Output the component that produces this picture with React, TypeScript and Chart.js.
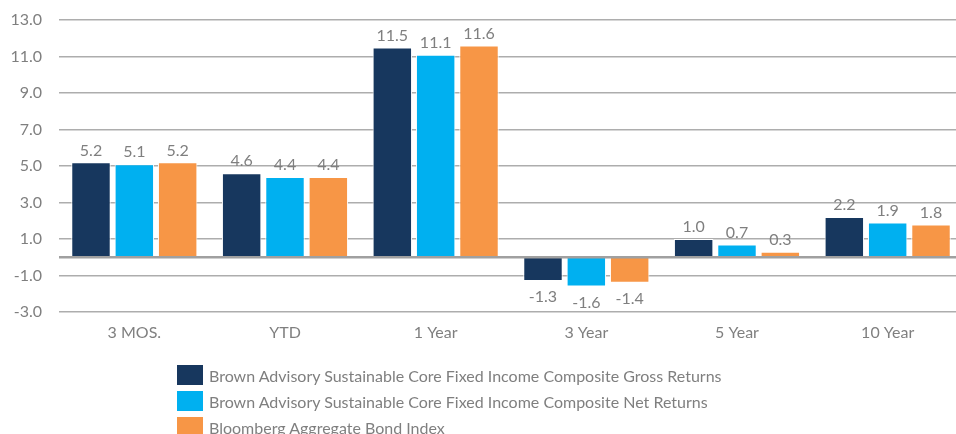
import React, { useEffect, useRef } from "react";
import { Chart, registerables } from "chart.js";

Chart.register(...registerables);

const categories = ["3 MOS.", "YTD", "1 Year", "3 Year", "5 Year", "10 Year"];
const grossReturns = [5.2, 4.6, 11.5, -1.3, 1.0, 2.2];
const netReturns = [5.1, 4.4, 11.1, -1.6, 0.7, 1.9];
const benchmarkReturns = [5.2, 4.4, 11.6, -1.4, 0.3, 1.8];
const seriesNames = [
  "Brown Advisory Sustainable Core Fixed Income Composite Gross Returns",
  "Brown Advisory Sustainable Core Fixed Income Composite Net Returns",
  "Bloomberg Aggregate Bond Index",
];
const seriesColors = ["#17375E", "#00B0F0", "#F79646"];
const yMin = -3;
const yMax = 13;
const yStep = 2;

const FONT = "Lato, 'Noto Sans', sans-serif";
const TEXT_COLOR = "#7F7F7F";

const zeroLine = {
  id: "zeroLine",
  afterDatasetsDraw(chart: any) {
    const { ctx, chartArea, scales } = chart;
    const y = scales.y.getPixelForValue(0);
    ctx.save();
    ctx.strokeStyle = "#A0A0A0";
    ctx.lineWidth = 2.5;
    ctx.beginPath();
    ctx.moveTo(chartArea.left, y);
    ctx.lineTo(chartArea.right, y);
    ctx.stroke();
    ctx.restore();
  },
};

const valueLabels = {
  id: "valueLabels",
  afterDatasetsDraw(chart: any) {
    const { ctx } = chart;
    ctx.save();
    ctx.font = `16px ${FONT}`;
    ctx.fillStyle = TEXT_COLOR;
    ctx.textAlign = "center";
    chart.data.datasets.forEach((ds: any, di: number) => {
      const meta = chart.getDatasetMeta(di);
      meta.data.forEach((bar: any, i: number) => {
        const v = ds.data[i] as number;
        const text = v.toFixed(1);
        if (v >= 0) {
          ctx.textBaseline = "bottom";
          ctx.fillText(text, bar.x, bar.y - 4);
        } else {
          ctx.textBaseline = "top";
          ctx.fillText(text, bar.x, bar.y + 8);
        }
      });
    });
    ctx.restore();
  },
};

export default function App() {
  const canvasRef = useRef<HTMLCanvasElement | null>(null);

  useEffect(() => {
    document.body.style.margin = "0";
    const canvas = canvasRef.current;
    if (!canvas) return;
    const data = [grossReturns, netReturns, benchmarkReturns];
    const chart = new Chart(canvas, {
      type: "bar",
      data: {
        labels: categories,
        datasets: data.map((d, i) => ({
          label: seriesNames[i],
          data: d,
          backgroundColor: seriesColors[i],
          borderColor: "#FFFFFF",
          borderWidth: 1,
          barPercentage: 0.91,
          categoryPercentage: 0.863,
        })),
      },
      options: {
        responsive: false,
        animation: false,
        devicePixelRatio: 1,
        layout: { padding: { top: 20, bottom: 82, left: 0, right: 0 } },
        plugins: {
          legend: { display: false },
          tooltip: { enabled: false },
        },
        scales: {
          x: {
            grid: { display: false, drawTicks: false },
            border: { display: false },
            ticks: {
              color: TEXT_COLOR,
              font: { family: FONT, size: 16 },
              padding: 11,
            },
            afterFit: (s: any) => {
              s.height = 40;
            },
          },
          y: {
            min: yMin,
            max: yMax,
            ticks: {
              stepSize: yStep,
              color: TEXT_COLOR,
              font: { family: FONT, size: 16 },
              padding: 17,
              callback: (v: any) => Number(v).toFixed(1),
            },
            grid: {
              color: "#ADADAD",
              lineWidth: 1.5,
              drawTicks: false,
            },
            border: { display: false },
            afterFit: (s: any) => {
              s.width = 59;
              s.paddingTop = 0;
              s.paddingBottom = 0;
            },
          },
        },
      },
      plugins: [zeroLine, valueLabels],
    });
    return () => chart.destroy();
  }, []);

  return (
    <div
      style={{
        position: "fixed",
        left: 0,
        top: 0,
        width: 956,
        height: 434,
        overflow: "hidden",
        background: "#FFFFFF",
      }}
    >
      <canvas ref={canvasRef} width={963} height={434} style={{ display: "block" }} />
      <div
        style={{
          position: "absolute",
          left: 177,
          top: 362,
          fontFamily: FONT,
          fontSize: 16,
          color: TEXT_COLOR,
        }}
      >
        {seriesNames.map((name, i) => (
          <div
            key={name}
            style={{ display: "flex", alignItems: "center", height: 26, whiteSpace: "nowrap" }}
          >
            <span
              style={{
                display: "inline-block",
                width: 26,
                height: 20,
                background: seriesColors[i],
                marginRight: 6,
              }}
            />
            <span>{name}</span>
          </div>
        ))}
      </div>
    </div>
  );
}
